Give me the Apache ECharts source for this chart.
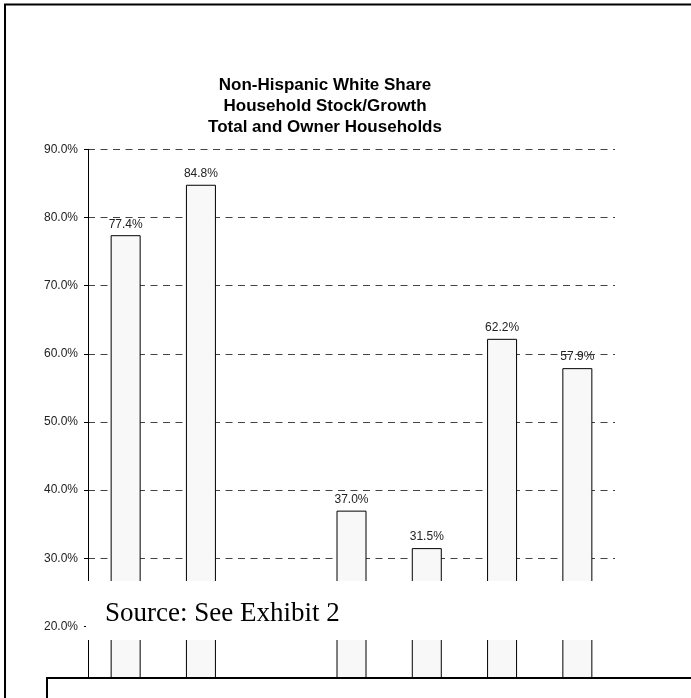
<!DOCTYPE html>
<html>
<head>
<meta charset="utf-8">
<style>
  html, body { margin: 0; padding: 0; background: #fff; }
  #chart { width: 691px; height: 698px; }
</style>
<script src="https://cdn.jsdelivr.net/npm/echarts@6/dist/echarts.min.js"></script>
</head>
<body>
<div id="chart"></div>
<script>
// Household groups along the x axis (labels sit below the visible area)
const categories = ['Total 2000', 'Owner 2000', '', 'Total Growth', 'Owner Growth', 'Total 2010', 'Owner 2010'];
// Non-Hispanic white share, in percent
const whiteShare = [77.4, 84.8, null, 37.0, 31.5, 62.2, 57.9];
// Y axis range and step, in percent
const yMin = 10;
const yMax = 90;
const yStep = 10;
const titleLines = ['Non-Hispanic White Share', 'Household Stock/Growth', 'Total and Owner Households'];
const sourceNote = 'Source: See Exhibit 2';

const chart = echarts.init(document.getElementById('chart'), null, { renderer: 'canvas' });

const sansFont = "'Liberation Sans', Arial, sans-serif";

chart.setOption({
  animation: false,
  backgroundColor: '#fff',
  grid: {
    left: 88,
    right: 76,
    top: 149.3,
    bottom: 3.3,
    containLabel: false
  },
  xAxis: {
    type: 'category',
    data: categories,
    axisLine: { show: false },
    axisTick: { show: false },
    axisLabel: { show: false },
    splitLine: { show: false }
  },
  yAxis: {
    type: 'value',
    min: yMin,
    max: yMax,
    interval: yStep,
    axisLine: { show: true, lineStyle: { color: '#000', width: 1 } },
    axisTick: { show: true, inside: false, length: 4, lineStyle: { color: '#000', width: 1 } },
    axisLabel: {
      margin: 10,
      fontFamily: sansFont,
      fontSize: 12,
      color: '#222',
      formatter: function (v) { return v < 20 ? '' : v.toFixed(1) + '%'; }
    },
    splitLine: {
      show: true,
      lineStyle: { color: '#444', width: 1, type: [7, 5.5] }
    }
  },
  series: [{
    type: 'bar',
    data: whiteShare,
    barWidth: 30,
    itemStyle: {
      color: '#f8f8f8',
      borderColor: '#000',
      borderWidth: 1
    },
    label: {
      show: true,
      position: 'top',
      distance: 5,
      fontFamily: sansFont,
      fontSize: 12,
      color: '#222',
      formatter: function (p) { return p.value.toFixed(1) + '%'; }
    },
    z: 3
  }],
  graphic: [
    // outer frame (top and left edges; it runs past the canvas on the other sides)
    {
      type: 'polyline',
      shape: { points: [[5, 720], [5, 4.5], [720, 4.5]] },
      style: { fill: 'none', stroke: '#000', lineWidth: 2 },
      z: 100
    },
    // title
    {
      type: 'text',
      style: {
        text: titleLines.join('\n'),
        x: 325,
        y: 106,
        align: 'center',
        verticalAlign: 'middle',
        lineHeight: 21,
        font: "bold 17px 'Liberation Sans', Arial, sans-serif",
        fill: '#000'
      },
      z: 100
    },
    // white band carrying the source note
    {
      type: 'rect',
      shape: { x: 86, y: 581, width: 700, height: 59 },
      style: { fill: '#fff', stroke: 'none' },
      z: 100
    },
    {
      type: 'text',
      style: {
        text: sourceNote,
        x: 105,
        y: 614,
        align: 'left',
        verticalAlign: 'middle',
        font: "27px 'Liberation Serif', 'Times New Roman', serif",
        fill: '#000'
      },
      z: 101
    },
    // lower boxed panel
    {
      type: 'rect',
      shape: { x: 47, y: 678, width: 700, height: 100 },
      style: { fill: '#fff', stroke: 'none' },
      z: 102
    },
    {
      type: 'polyline',
      shape: { points: [[47, 720], [47, 678], [720, 678]] },
      style: { fill: 'none', stroke: '#000', lineWidth: 2 },
      z: 103
    }
  ]
});
</script>
</body>
</html>
